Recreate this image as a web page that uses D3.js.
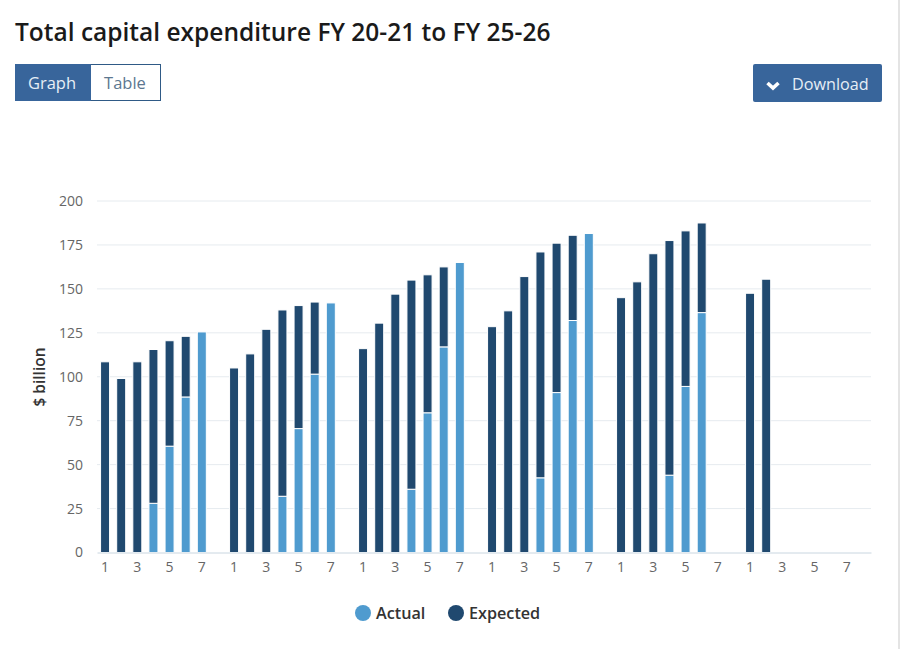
<!DOCTYPE html>
<html>
<head>
<meta charset="utf-8">
<script src="https://cdnjs.cloudflare.com/ajax/libs/d3/7.8.5/d3.min.js"></script>
<style>
  html, body { margin: 0; padding: 0; background: #fff; }
  body { width: 900px; height: 649px; overflow: hidden; font-family: "Open Sans", sans-serif; }
  svg { display: block; }
  text { font-family: "Open Sans", sans-serif; }
</style>
</head>
<body>
<svg id="chart" width="900" height="649"></svg>
<script>
// one slot per quarter position, "" slots are the gaps between the years
var slots = d3.range(48);
var tickLabels = ["1","2","3","4","5","6","7",""];

// values ($ billion), 0 where a bar has no part
var actual = [
  0, 0, 0, 28, 60.5, 88.5, 125.5, 0,
  0, 0, 0, 32, 70.5, 101.5, 142, 0,
  0, 0, 0, 36, 79.5, 117, 165, 0,
  0, 0, 0, 42.5, 91, 132, 181.5, 0,
  0, 0, 0, 44, 94.5, 136.5, 0, 0,
  0, 0, 0, 0, 0, 0, 0, 0
];
var expected = [
  108.5, 99, 108.5, 87.5, 60, 34.5, 0, 0,
  105, 113, 127, 106, 70, 41, 0, 0,
  116, 130.5, 147, 119, 78.5, 45.5, 0, 0,
  128.5, 137.5, 157, 128.5, 85, 48.5, 0, 0,
  145, 154, 170, 133.5, 88.5, 51, 0, 0,
  147.5, 155.5, 0, 0, 0, 0, 0, 0
];
var yTicks = [0, 25, 50, 75, 100, 125, 150, 175, 200];
var seriesNames = ["Actual", "Expected"];
var seriesColors = ["#4f9bcf", "#20496f"];

var svg = d3.select("#chart");

// grey edge of the page on the right
svg.append("rect").attr("x", 898).attr("y", 0).attr("width", 2).attr("height", 649)
  .attr("fill", "#e4e4e4");

// page header
svg.append("text").attr("x", 15).attr("y", 41)
  .attr("font-size", 24.5).attr("font-weight", 600).attr("fill", "#1a1a1a")
  .text("Total capital expenditure FY 20-21 to FY 25-26");

svg.append("rect").attr("x", 15.5).attr("y", 64.5).attr("width", 145).attr("height", 36)
  .attr("fill", "#fff").attr("stroke", "#2f5a86");
svg.append("rect").attr("x", 15).attr("y", 64).attr("width", 76).attr("height", 37)
  .attr("fill", "#38659b");
svg.append("text").attr("x", 52).attr("y", 89).attr("text-anchor", "middle")
  .attr("font-size", 16.5).attr("fill", "#e6eef6").text("Graph");
svg.append("text").attr("x", 125).attr("y", 89).attr("text-anchor", "middle")
  .attr("font-size", 16.5).attr("fill", "#5c7790").text("Table");

svg.append("rect").attr("x", 753).attr("y", 64).attr("width", 129).attr("height", 38)
  .attr("rx", 2).attr("fill", "#38659b");
svg.append("path").attr("d", "M767.5 83l5.5 5l5.5-5")
  .attr("fill", "none").attr("stroke", "#fff").attr("stroke-width", 3.6);
svg.append("text").attr("x", 792).attr("y", 90)
  .attr("font-size", 16.2).attr("fill", "#e6eef6").text("Download");

// scales
var x = d3.scaleBand().domain(slots).range([97, 871]);
var y = d3.scaleLinear().domain([0, 200]).range([552.5, 201]);

// gridlines
svg.append("g").selectAll("line")
  .data(yTicks.slice(1))
  .join("line")
  .attr("x1", 97).attr("x2", 871)
  .attr("y1", d => y(d)).attr("y2", d => y(d))
  .attr("stroke", "#e6ebef");

// stacked bars
var table = slots.map(i => ({ slot: i, Actual: actual[i], Expected: expected[i] }));
var stacked = d3.stack().keys(seriesNames)(table);

svg.append("g").selectAll("g")
  .data(stacked)
  .join("g")
  .attr("fill", (d, i) => seriesColors[i])
  .selectAll("rect")
  .data(d => d.filter(p => p[1] > p[0]))
  .join("rect")
  .attr("x", d => x(d.data.slot) + x.bandwidth() / 2 - 4.5)
  .attr("width", 9)
  .attr("y", d => y(d[1]))
  .attr("height", d => y(d[0]) - y(d[1]))
  .attr("stroke", "#fff")
  .attr("stroke-width", 1);

// axes
var xAxis = d3.axisBottom(x)
  .tickSize(0)
  .tickPadding(10)
  .tickValues(slots.filter(i => i % 8 % 2 === 0 && i % 8 !== 7))
  .tickFormat(i => tickLabels[i % 8]);
var xG = svg.append("g").attr("transform", "translate(0,552.5)").call(xAxis);
xG.select(".domain").attr("stroke", "#c9d6e0");
xG.selectAll("text").attr("font-size", 14).attr("fill", "#666");

var yAxis = d3.axisLeft(y).tickValues(yTicks).tickSize(0).tickPadding(14);
var yG = svg.append("g").attr("transform", "translate(97,0)").call(yAxis);
yG.select(".domain").remove();
yG.selectAll("text").attr("font-size", 14).attr("fill", "#666");

svg.append("text")
  .attr("transform", "translate(45,377) rotate(-90)")
  .attr("text-anchor", "middle")
  .attr("font-size", 15.5).attr("font-weight", 600).attr("fill", "#333")
  .text("$ billion");

// legend
var legendX = [363, 456];
seriesNames.forEach((name, i) => {
  svg.append("circle").attr("cx", legendX[i]).attr("cy", 613).attr("r", 8)
    .attr("fill", seriesColors[i]);
  svg.append("text").attr("x", legendX[i] + 13).attr("y", 619)
    .attr("font-size", 16.2).attr("font-weight", 600).attr("fill", "#333")
    .text(name);
});
</script>
</body>
</html>
